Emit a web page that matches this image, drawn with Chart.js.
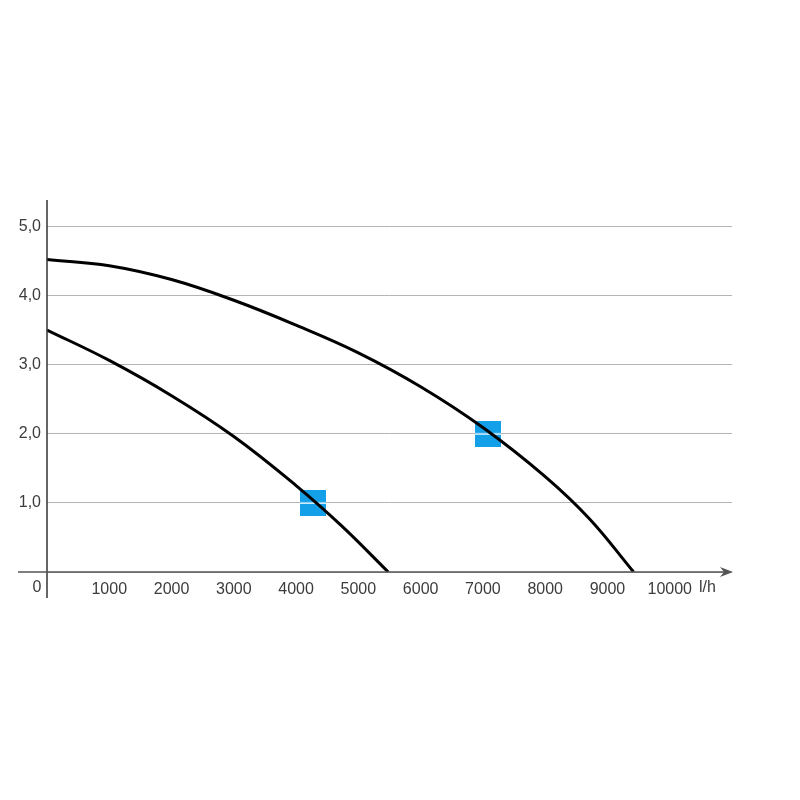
<!DOCTYPE html>
<html>
<head>
<meta charset="utf-8">
<script src="https://cdn.jsdelivr.net/npm/chart.js@4"></script>
<style>
  html, body { margin: 0; padding: 0; background: #fff; }
  #wrap { width: 800px; height: 800px; }
</style>
</head>
<body>
<div id="wrap"><canvas id="chartPompe" width="800" height="800"></canvas></div>
<script>
// Courbes débit (l/h) / hauteur (m)
const curveAFlow = [0, 1000, 2000, 3000, 4000, 4740, 5480];
const curveAHead = [3.5, 3.06, 2.55, 1.96, 1.25, 0.66, 0];

const curveBFlow = [0, 1000, 2000, 3000, 4000, 5000, 6000, 7000, 8000, 8710, 9420];
const curveBHead = [4.52, 4.43, 4.23, 3.93, 3.57, 3.17, 2.68, 2.09, 1.38, 0.77, 0];

// Points de fonctionnement (carrés bleus)
const markerFlow = [4270, 7080];
const markerHead = [1.0, 2.0];

const yTicks = [0, 1, 2, 3, 4, 5];
const xTicks = [0, 1000, 2000, 3000, 4000, 5000, 6000, 7000, 8000, 9000, 10000];
const xUnit = 'l/h';

const textColor = '#3c3c3c';
const fontFamily = '"Liberation Sans", Arial, sans-serif';

function toPoints(xs, ys) {
    return xs.map((x, i) => ({ x: x, y: ys[i] }));
}

// Carré bleu avec le trait blanc au milieu
function makeMarker() {
    const c = document.createElement('canvas');
    c.width = 26;
    c.height = 26;
    const g = c.getContext('2d');
    g.fillStyle = '#14a0e8';
    g.fillRect(0, 0, 26, 26);
    g.fillStyle = '#e8f6ff';
    g.fillRect(0, 12.5, 26, 1.5);
    return c;
}

// Axes dessinés à la main (flèche, prolongements, "0" et unité)
const axesPlugin = {
    id: 'axesPlugin',
    afterDatasetsDraw(chart) {
        const ctx = chart.ctx;
        const xs = chart.scales.x;
        const ys = chart.scales.y;
        const x0 = xs.getPixelForValue(0);
        const y0 = ys.getPixelForValue(0);
        const right = chart.chartArea.right;

        ctx.save();
        ctx.strokeStyle = '#333';
        ctx.lineWidth = 1.5;
        ctx.beginPath();
        ctx.moveTo(x0, chart.chartArea.top);
        ctx.lineTo(x0, y0 + 26);
        ctx.stroke();

        ctx.strokeStyle = '#555';
        ctx.beginPath();
        ctx.moveTo(x0 - 29, y0);
        ctx.lineTo(right - 4, y0);
        ctx.stroke();

        ctx.fillStyle = '#555';
        ctx.beginPath();
        ctx.moveTo(right + 1, y0);
        ctx.lineTo(right - 12, y0 - 5);
        ctx.lineTo(right - 8, y0);
        ctx.lineTo(right - 12, y0 + 5);
        ctx.closePath();
        ctx.fill();

        ctx.fillStyle = textColor;
        ctx.font = '16px ' + fontFamily;
        ctx.textBaseline = 'middle';
        ctx.textAlign = 'center';
        ctx.fillText('0', x0 - 10, y0 + 16);
        ctx.textAlign = 'left';
        ctx.fillText(xUnit, 699, y0 + 16);
        ctx.restore();
    }
};

const canvas = document.getElementById('chartPompe');

new Chart(canvas, {
    type: 'scatter',
    data: {
        datasets: [
            {
                label: 'A',
                type: 'line',
                data: toPoints(curveAFlow, curveAHead),
                borderColor: '#000',
                borderWidth: 3,
                tension: 0.4,
                pointRadius: 0,
                fill: false,
                order: 1
            },
            {
                label: 'B',
                type: 'line',
                data: toPoints(curveBFlow, curveBHead),
                borderColor: '#000',
                borderWidth: 3,
                tension: 0.4,
                pointRadius: 0,
                fill: false,
                order: 1
            },
            {
                label: 'points',
                data: toPoints(markerFlow, markerHead),
                pointStyle: makeMarker(),
                order: 2
            }
        ]
    },
    options: {
        responsive: false,
        animation: false,
        layout: {
            padding: { top: 200, right: 68, left: 0, bottom: 0 }
        },
        plugins: {
            legend: { display: false },
            tooltip: { enabled: false }
        },
        scales: {
            x: {
                type: 'linear',
                min: 0,
                max: 11000,
                afterBuildTicks: (scale) => { scale.ticks = xTicks.map(v => ({ value: v })); },
                afterFit: (scale) => { scale.height = 228; },
                grid: { display: false, drawTicks: false },
                border: { display: false },
                ticks: {
                    padding: 8,
                    color: textColor,
                    font: { size: 16, family: fontFamily },
                    maxRotation: 0,
                    callback: (v) => v === 0 ? '' : String(v)
                }
            },
            y: {
                type: 'linear',
                min: 0,
                max: 5.38,
                afterBuildTicks: (scale) => { scale.ticks = yTicks.map(v => ({ value: v })); },
                afterFit: (scale) => { scale.width = 47; },
                grid: { color: '#b4b4b4', lineWidth: 1, drawTicks: false },
                border: { display: false },
                ticks: {
                    padding: 6,
                    color: textColor,
                    font: { size: 16, family: fontFamily },
                    callback: (v) => v === 0 ? '' : v.toFixed(1).replace('.', ',')
                }
            }
        }
    },
    plugins: [axesPlugin]
});
</script>
</body>
</html>
